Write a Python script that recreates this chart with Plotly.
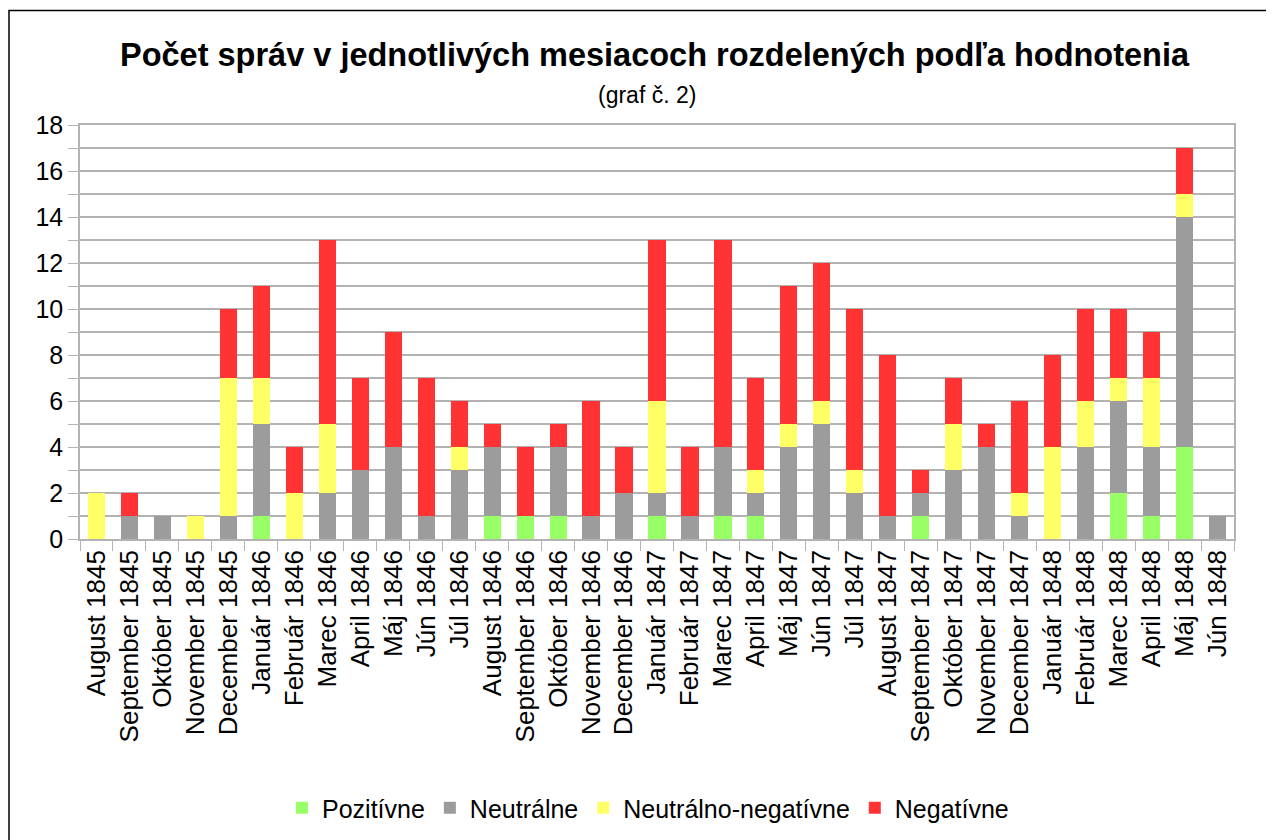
import plotly.graph_objects as go

months = [
    "August 1845", "September 1845", "Október 1845", "November 1845", "December 1845",
    "Január 1846", "Február 1846", "Marec 1846", "April 1846", "Máj 1846", "Jún 1846",
    "Júl 1846", "August 1846", "September 1846", "Október 1846", "November 1846",
    "December 1846", "Január 1847", "Február 1847", "Marec 1847", "April 1847",
    "Máj 1847", "Jún 1847", "Júl 1847", "August 1847", "September 1847",
    "Október 1847", "November 1847", "December 1847", "Január 1848", "Február 1848",
    "Marec 1848", "April 1848", "Máj 1848", "Jún 1848",
]

pozitivne = [0, 0, 0, 0, 0, 1, 0, 0, 0, 0, 0, 0, 1, 1, 1, 0, 0, 1, 0, 1, 1,
             0, 0, 0, 0, 1, 0, 0, 0, 0, 0, 2, 1, 4, 0]
neutralne = [0, 1, 1, 0, 1, 4, 0, 2, 3, 4, 1, 3, 3, 0, 3, 1, 2, 1, 1, 3, 1,
             4, 5, 2, 1, 1, 3, 4, 1, 0, 4, 4, 3, 10, 1]
neutralno_negativne = [2, 0, 0, 1, 6, 2, 2, 3, 0, 0, 0, 1, 0, 0, 0, 0, 0, 4, 0, 0, 1,
                       1, 1, 1, 0, 0, 2, 0, 1, 4, 2, 1, 3, 1, 0]
negativne = [0, 1, 0, 0, 3, 4, 2, 8, 4, 5, 6, 2, 1, 3, 1, 5, 2, 7, 3, 9, 4,
             6, 6, 7, 7, 1, 2, 1, 4, 4, 4, 3, 2, 2, 0]

series = [
    ("Pozitívne", pozitivne, "#99ff66"),
    ("Neutrálne", neutralne, "#9c9c9c"),
    ("Neutrálno-negatívne", neutralno_negativne, "#ffff66"),
    ("Negatívne", negativne, "#ff3333"),
]

FONT = "Liberation Sans, Arial, sans-serif"
GRID = "#b3b3b3"

fig = go.Figure()
for name, values, color in series:
    fig.add_trace(go.Bar(
        x=months, y=values, name=name,
        marker=dict(color=color, line=dict(width=0)),
    ))

# the page body adds an 8px offset, so screen coords are shifted back by 8
OFF = 8
W, H = 1274, 840
# plot area on screen: x 80..1234, y 125..539
ML, MT = 80 - OFF, 125 - OFF
MR, MB = W - (1234 - OFF), H - (539 - OFF)
pw, ph = W - ML - MR, H - MT - MB


def px(x):
    return (x - OFF - ML) / pw


def py(y):
    return (H - MB - (y - OFF)) / ph


fig.update_layout(
    width=W, height=H,
    barmode="stack", bargap=0.48,
    plot_bgcolor="white", paper_bgcolor="white",
    margin=dict(l=ML, r=MR, t=MT, b=MB, autoexpand=False),
    font=dict(family=FONT, size=25, color="black"),
    showlegend=True,
    legend=dict(
        orientation="h", x=px(648), xanchor="center", y=py(808), yanchor="middle",
        font=dict(size=25), traceorder="normal", itemwidth=30,
    ),
    annotations=[
        dict(text="<b>Počet správ v jednotlivých mesiacoch rozdelených podľa hodnotenia</b>",
             x=px(655), y=py(55), xref="paper", yref="paper", showarrow=False,
             xanchor="center", yanchor="middle", font=dict(size=32.5)),
        dict(text="(graf č. 2)",
             x=px(647), y=py(95), xref="paper", yref="paper", showarrow=False,
             xanchor="center", yanchor="middle", font=dict(size=23)),
    ],
    shapes=[
        dict(type="rect", xref="paper", yref="paper",
             x0=px(9), x1=px(1300), y0=py(870), y1=py(10.5),
             line=dict(color="black", width=1.5), fillcolor="rgba(0,0,0,0)"),
    ],
)

fig.update_xaxes(
    type="category", tickangle=-90, automargin=False,
    showline=True, linecolor=GRID, linewidth=1.5, mirror=True,
    ticks="outside", tickson="boundaries", ticklen=10, tickcolor=GRID,
    ticklabelstandoff=-1,
    showgrid=False, tickfont=dict(size=26),
)
fig.update_yaxes(
    range=[0, 18], dtick=2, tick0=0, automargin=False,
    showline=True, linecolor=GRID, linewidth=1.5, mirror=True,
    ticks="outside", ticklen=10, tickcolor=GRID,
    showgrid=True, gridcolor=GRID, gridwidth=1.5, zeroline=False,
    minor=dict(dtick=1, showgrid=True, gridcolor=GRID, gridwidth=1.5,
               ticks="outside", ticklen=10, tickcolor=GRID),
    tickfont=dict(size=25),
)

fig.write_html("out.html")
